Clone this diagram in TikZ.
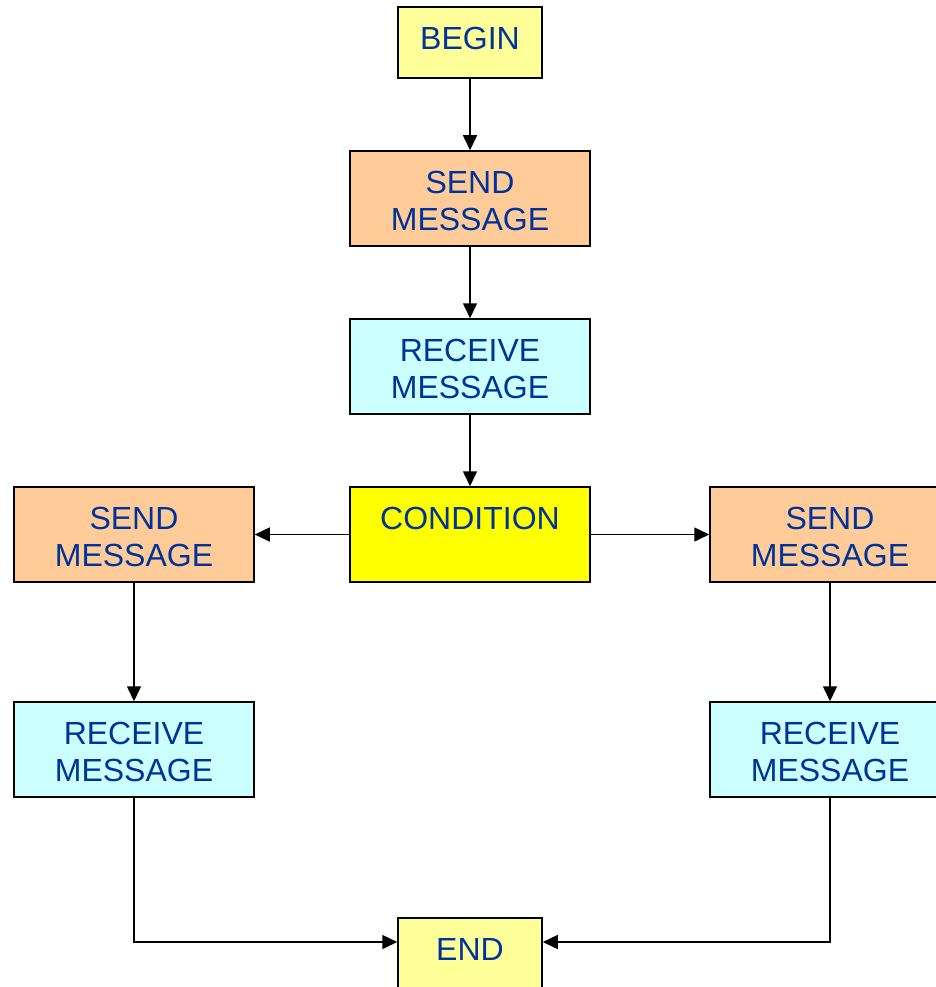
\documentclass[tikz,border=0pt]{standalone}
\usepackage{fontspec}
\setmainfont{Liberation Sans}
\usetikzlibrary{arrows.meta}
\definecolor{txtblue}{RGB}{0,51,153}
\definecolor{paleyellow}{RGB}{255,255,153}
\definecolor{peach}{RGB}{255,204,153}
\definecolor{paleturq}{RGB}{204,255,255}
\definecolor{brightyellow}{RGB}{255,255,0}
\begin{document}
\begin{tikzpicture}[x=1pt,y=-1pt,
  box/.style={draw=black, line width=1.5pt, align=center, text=txtblue,
    font=\fontsize{32}{37}\selectfont, inner sep=0pt,
    text height=64pt, text depth=0pt,
    minimum width=240pt, minimum height=95pt},
  term/.style={box, fill=paleyellow, minimum width=144pt, minimum height=71pt,
    text height=23pt, text depth=9pt},
  sendbox/.style={box, fill=peach},
  recvbox/.style={box, fill=paleturq},
  condbox/.style={box, fill=brightyellow},
  conn/.style={line width=1.5pt, -{Triangle[length=15pt,width=14pt]}}]
\useasboundingbox (0,0) rectangle (936,987);
\fill[white] (0,0) rectangle (936,987);

\node[term] (begin) at (470,42.5) {BEGIN};
\node[sendbox] (send1) at (470,198.5) {SEND\\MESSAGE};
\node[recvbox] (recv1) at (470,366.5) {RECEIVE\\MESSAGE};
\node[condbox] (cond) at (470,534.5) {CONDITION\\\mbox{}};
\node[sendbox] (sendL) at (134,534.5) {SEND\\MESSAGE};
\node[sendbox] (sendR) at (830,534.5) {SEND\\MESSAGE};
\node[recvbox] (recvL) at (134,749.5) {RECEIVE\\MESSAGE};
\node[recvbox] (recvR) at (830,749.5) {RECEIVE\\MESSAGE};
\node[term] (end) at (470,953.5) {END};

\draw[conn] (begin) -- (send1);
\draw[conn] (send1) -- (recv1);
\draw[conn] (recv1) -- (cond);
\draw[conn] (cond) -- (sendL);
\draw[conn] (cond) -- (sendR);
\draw[conn] (sendL) -- (recvL);
\draw[conn] (sendR) -- (recvR);
\draw[conn] (recvL.south) |- (end.west |- 0,942);
\draw[conn] (recvR.south) |- (end.east |- 0,942);
\end{tikzpicture}
\end{document}
